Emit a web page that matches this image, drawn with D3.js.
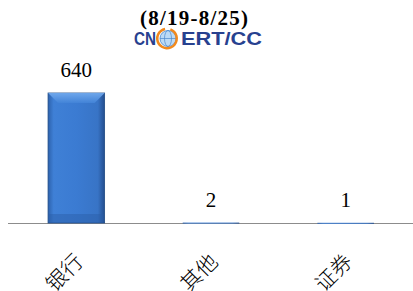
<!DOCTYPE html>
<html>
<head>
<meta charset="utf-8">
<script src="https://cdn.jsdelivr.net/npm/d3@7"></script>
<style>
  body { margin: 0; background: #fff; }
  svg { display: block; }
</style>
</head>
<body>
<svg></svg>
<script>
// data
var categories = ["银行", "其他", "证券"];
var values = [640, 2, 1];
var title = "(8/19-8/25)";

var W = 413, H = 291;
var svg = d3.select("svg").attr("width", W).attr("height", H);

var baseY = 223;

// scales
var x = d3.scaleBand()
  .domain(categories)
  .range([9, 413])
  .paddingInner(0.58)
  .paddingOuter(0.29);

var y = d3.scaleLinear()
  .domain([0, 640])
  .range([baseY, 93]);

// gradients for the bevelled bar
var defs = svg.append("defs");
var g1 = defs.append("linearGradient").attr("id", "barH").attr("x1", 0).attr("x2", 1);
g1.append("stop").attr("offset", 0).attr("stop-color", "#2d62ad");
g1.append("stop").attr("offset", 0.1).attr("stop-color", "#3f80d6");
g1.append("stop").attr("offset", 0.5).attr("stop-color", "#3b7bd2");
g1.append("stop").attr("offset", 0.88).attr("stop-color", "#3874c6");
g1.append("stop").attr("offset", 1).attr("stop-color", "#234e8e");

var g2 = defs.append("linearGradient").attr("id", "barTop").attr("x1", 0).attr("x2", 0).attr("y1", 0).attr("y2", 1);
g2.append("stop").attr("offset", 0).attr("stop-color", "#74acef");
g2.append("stop").attr("offset", 1).attr("stop-color", "#4384d8");

// title
svg.append("text")
  .attr("x", 194).attr("y", 25)
  .attr("text-anchor", "middle")
  .style("font-family", "'Liberation Serif', 'DejaVu Serif', serif")
  .style("font-weight", "bold")
  .style("font-size", "21px")
  .attr("textLength", 108)
  .text(title);

// logo
var logo = svg.append("g");
logo.append("text")
  .attr("x", 134).attr("y", 45)
  .style("font-family", "'Liberation Sans', Arial, sans-serif")
  .style("font-weight", "bold")
  .style("font-size", "19px")
  .attr("textLength", 22)
  .attr("lengthAdjust", "spacingAndGlyphs")
  .attr("fill", "#27418f")
  .text("CN");
logo.append("circle").attr("cx", 168).attr("cy", 38.5).attr("r", 8)
  .attr("fill", "#bcdaf5").attr("stroke", "#4a86cc").attr("stroke-width", 0.8);
logo.append("ellipse").attr("cx", 168).attr("cy", 38.5).attr("rx", 3.5).attr("ry", 8)
  .attr("fill", "none").attr("stroke", "#4a86cc").attr("stroke-width", 0.7);
logo.append("line").attr("x1", 160).attr("x2", 176).attr("y1", 38.5).attr("y2", 38.5)
  .attr("stroke", "#4a86cc").attr("stroke-width", 0.7);
logo.append("path")
  .attr("d", d3.arc().innerRadius(8.5).outerRadius(11).startAngle(0.35).endAngle(2 * Math.PI - 0.2)())
  .attr("transform", "translate(167,38.5)")
  .attr("fill", "#f28a1e");
logo.append("text")
  .attr("x", 181).attr("y", 45)
  .style("font-family", "'Liberation Sans', Arial, sans-serif")
  .style("font-weight", "bold")
  .style("font-size", "19px")
  .attr("textLength", 81)
  .attr("lengthAdjust", "spacingAndGlyphs")
  .attr("fill", "#27418f")
  .text("ERT/CC");

// baseline
svg.append("line")
  .attr("x1", 8).attr("x2", 413)
  .attr("y1", baseY + 0.5).attr("y2", baseY + 0.5)
  .attr("stroke", "#8c8c8c").attr("stroke-width", 1.2);

// bars
var bars = svg.selectAll(".bar")
  .data(values)
  .enter().append("g").attr("class", "bar");

bars.append("rect")
  .attr("x", function(d, i) { return x(categories[i]); })
  .attr("y", function(d) { return y(d); })
  .attr("width", x.bandwidth())
  .attr("height", function(d) { return Math.max(baseY - y(d), 1); })
  .attr("fill", "url(#barH)")
  .attr("stroke", function(d) { return d > 10 ? "#1f4a85" : "none"; })
  .attr("stroke-width", 0.8);

// bevel on top of the tall bar
bars.filter(function(d) { return d > 10; })
  .append("path")
  .attr("d", function(d, i) {
    var x0 = x(categories[i]), x1 = x0 + x.bandwidth(), t = y(d), b = 10;
    return "M" + x0 + "," + t + "L" + x1 + "," + t + "L" + (x1 - b) + "," + (t + b) + "L" + (x0 + b) + "," + (t + b) + "Z";
  })
  .attr("fill", "url(#barTop)")
  .attr("opacity", 0.9);

bars.filter(function(d) { return d > 10; })
  .append("rect")
  .attr("x", function(d, i) { return x(categories[i]) + 1; })
  .attr("y", baseY - 9)
  .attr("width", x.bandwidth() - 2)
  .attr("height", 9)
  .attr("fill", "#2a5ea6")
  .attr("opacity", 0.45);

// value labels
svg.selectAll(".val")
  .data(values)
  .enter().append("text")
  .attr("class", "val")
  .attr("x", function(d, i) { return x(categories[i]) + x.bandwidth() / 2; })
  .attr("y", function(d) { return y(d) - 16; })
  .attr("text-anchor", "middle")
  .style("font-family", "'Liberation Serif', 'DejaVu Serif', serif")
  .style("font-size", "21px")
  .attr("fill", "#000")
  .text(function(d) { return d; });

// category labels, rotated
svg.selectAll(".cat")
  .data(categories)
  .enter().append("text")
  .attr("class", "cat")
  .attr("text-anchor", "end")
  .attr("transform", function(d) {
    return "translate(" + (x(d) + x.bandwidth() / 2 + 8) + "," + (baseY + 40) + ") rotate(-45)";
  })
  .style("font-family", "'Noto Sans CJK SC', sans-serif")
  .style("font-size", "21px")
  .style("font-weight", "300")
  .attr("fill", "#000")
  .text(function(d) { return d; });
</script>
</body>
</html>
